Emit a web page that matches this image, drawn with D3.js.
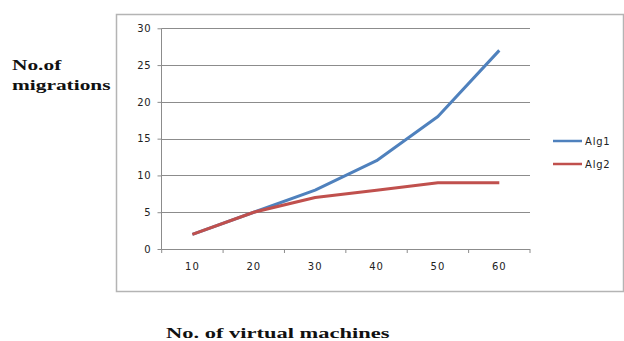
<!DOCTYPE html>
<html><head><meta charset="utf-8">
<script src="https://cdn.jsdelivr.net/npm/d3@7"></script>
<style>body{margin:0;background:#fff}</style>
</head><body>
<svg id="c" width="624" height="341"></svg>
<script>
const categories = [10, 20, 30, 40, 50, 60];
const alg1 = [2, 5, 8, 12, 18, 27];
const alg2 = [2, 5, 7, 8, 9, 9];
const yTicks = [0, 5, 10, 15, 20, 25, 30];
const seriesNames = ["Alg1", "Alg2"];
const colors = ["#4F81BD", "#C0504D"];

const svg = d3.select("#c");
// outer chart border
svg.append("rect").attr("x", 116.5).attr("y", 14.5).attr("width", 507).attr("height", 277)
  .attr("fill", "none").attr("stroke", "#b4b4b4").attr("stroke-width", 1.5);

const x = d3.scaleBand().domain(categories).range([161.7, 530]);
const y = d3.scaleLinear().domain([0, 30]).range([249, 28.3]);

// gridlines
svg.append("g").selectAll("line").data(yTicks.slice(1)).join("line")
  .attr("x1", 161.7).attr("x2", 530)
  .attr("y1", d => Math.round(y(d)) + 0.5).attr("y2", d => Math.round(y(d)) + 0.5)
  .attr("stroke", "#8c8c8c").attr("stroke-width", 1);

// y axis
const yAxis = svg.append("g").attr("transform", "translate(161.5,0)")
  .call(d3.axisLeft(y).tickValues(yTicks).tickSize(4).tickPadding(6));
yAxis.select(".domain").attr("stroke", "#8c8c8c").attr("d", `M0,${y(0)}V${y(30)}`);
yAxis.selectAll(".tick line").attr("stroke", "#8c8c8c");
yAxis.selectAll("text").attr("font-family", "DejaVu Sans").attr("font-size", 10).attr("fill", "#222")
  .attr("letter-spacing", 0.8);

// x axis
const xAxis = svg.append("g").attr("transform", `translate(0,${Math.round(y(0)) + 0.5})`)
  .call(d3.axisBottom(x).tickSize(0).tickPadding(13));
xAxis.select(".domain").attr("stroke", "#8c8c8c").attr("d", `M161.7,0H530`);
xAxis.selectAll("text").attr("font-family", "DejaVu Sans").attr("font-size", 10).attr("fill", "#222")
  .attr("letter-spacing", 1);
// category boundary ticks
const bounds = categories.map(c => x(c)).concat([x(categories[categories.length - 1]) + x.bandwidth()]);
svg.append("g").selectAll("line").data(bounds).join("line")
  .attr("x1", d => d).attr("x2", d => d)
  .attr("y1", y(0)).attr("y2", y(0) + 4)
  .attr("stroke", "#8c8c8c");

// lines
const line = d3.line().x((d, i) => x(categories[i]) + x.bandwidth() / 2).y(d => y(d));
[alg1, alg2].forEach((s, i) => {
  svg.append("path").datum(s).attr("d", line).attr("fill", "none")
    .attr("stroke", colors[i]).attr("stroke-width", 3).attr("stroke-linejoin", "round");
});

// legend
const legY = [141, 164];
seriesNames.forEach((n, i) => {
  svg.append("line").attr("x1", 553).attr("x2", 582).attr("y1", legY[i]).attr("y2", legY[i])
    .attr("stroke", colors[i]).attr("stroke-width", 2.5);
  svg.append("text").attr("x", 585).attr("y", legY[i] + 3.5).text(n)
    .attr("font-family", "DejaVu Sans").attr("font-size", 10).attr("fill", "#222").attr("letter-spacing", 0.8);
});

// axis titles
const titleFont = "Liberation Serif";
const t1 = svg.append("text").attr("font-family", titleFont).attr("font-weight", "bold")
  .attr("font-size", 15.5).attr("fill", "#111").attr("transform", "translate(12,0) scale(1.38,1)");
t1.append("tspan").attr("x", 0).attr("y", 70).text("No.of");
t1.append("tspan").attr("x", 0).attr("y", 90).text("migrations");

svg.append("text").attr("font-family", titleFont).attr("font-weight", "bold")
  .attr("font-size", 15.5).attr("fill", "#111").attr("transform", "translate(166,338) scale(1.45,1)")
  .text("No. of virtual machines");
</script>
</body></html>
